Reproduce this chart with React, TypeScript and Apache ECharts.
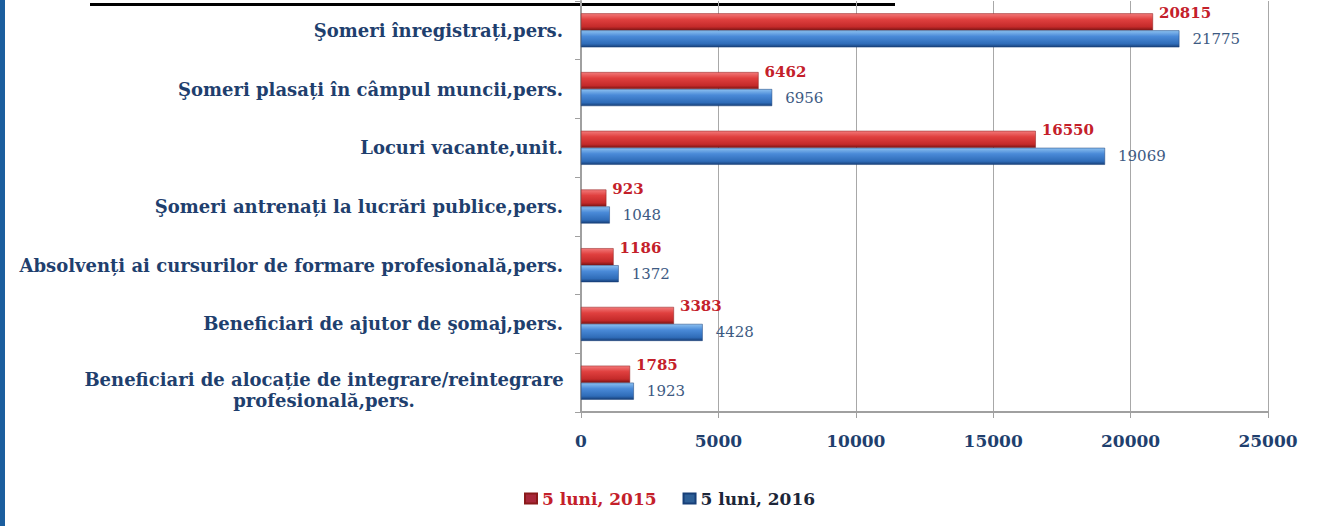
import React, { useEffect, useRef } from "react";
import * as echarts from "echarts";

const categories = [
  "Şomeri înregistrați,pers.",
  "Şomeri plasați în câmpul muncii,pers.",
  "Locuri vacante,unit.",
  "Şomeri antrenați la lucrări publice,pers.",
  "Absolvenți ai cursurilor de formare profesională,pers.",
  "Beneficiari de ajutor de şomaj,pers.",
  "Beneficiari de alocație de integrare/reintegrare\nprofesională,pers.",
];
const series2015 = [20815, 6462, 16550, 923, 1186, 3383, 1785];
const series2016 = [21775, 6956, 19069, 1048, 1372, 4428, 1923];
const seriesNames = ["5 luni, 2015", "5 luni, 2016"];
const xTicks = { min: 0, max: 25000, interval: 5000 };

const FONT = "DejaVu Serif";
const NAVY = "#1f3f6e";
const RED_TXT = "#c4202a";
const BLUE_TXT = "#3d5a82";

export default function App() {
  const ref = useRef<HTMLDivElement>(null);
  useEffect(() => {
    document.body.style.margin = "0";
    const chart = echarts.init(ref.current!, null, { renderer: "svg" });
    const redGrad = new echarts.graphic.LinearGradient(0, 0, 0, 1, [
      { offset: 0, color: "#f27a7a" },
      { offset: 0.35, color: "#e0403f" },
      { offset: 0.8, color: "#c42a2a" },
      { offset: 1, color: "#7e1515" },
    ]);
    const blueGrad = new echarts.graphic.LinearGradient(0, 0, 0, 1, [
      { offset: 0, color: "#8cc0f0" },
      { offset: 0.35, color: "#4a8ad8" },
      { offset: 0.8, color: "#2f6cb8" },
      { offset: 1, color: "#173f78" },
    ]);
    const catStyle = {
      color: NAVY,
      fontFamily: FONT,
      fontSize: 18,
      fontWeight: "bold",
      lineHeight: 24,
    };
    chart.setOption({
      animation: false,
      backgroundColor: "#ffffff",
      grid: { left: 581, right: 51, top: 1, bottom: 114, containLabel: false },
      legend: {
        top: 485,
        left: 519,
        itemWidth: 12,
        itemHeight: 10,
        itemGap: 26,
        icon: "rect",
        textStyle: { fontFamily: FONT, fontSize: 17, fontWeight: "bold" },
        data: [
          { name: seriesNames[0], textStyle: { color: RED_TXT, fontFamily: FONT, fontSize: 17, fontWeight: "bold" }, itemStyle: { color: "#a8283a" } },
          { name: seriesNames[1], textStyle: { color: "#1c2638", fontFamily: FONT, fontSize: 17, fontWeight: "bold" }, itemStyle: { color: "#2e5f96" } },
        ],
      },
      xAxis: {
        type: "value",
        min: xTicks.min,
        max: xTicks.max,
        interval: xTicks.interval,
        axisLine: { show: true, lineStyle: { color: "#a0a0a0", width: 2 } },
        axisTick: { show: true, length: 6, lineStyle: { color: "#a0a0a0" } },
        splitLine: { show: true, lineStyle: { color: "#a8a8a8", width: 1 } },
        axisLabel: {
          color: NAVY,
          fontFamily: FONT,
          fontSize: 17,
          fontWeight: "bold",
          margin: 20,
          formatter: (v: number) => String(v),
        },
      },
      yAxis: {
        type: "category",
        inverse: true,
        data: categories,
        axisLine: { show: true, lineStyle: { color: "#a0a0a0", width: 2 } },
        axisTick: { show: true, length: 6, lineStyle: { color: "#a0a0a0" } },
        axisLabel: {
          ...catStyle,
          margin: 18,
          formatter: (v: string) => {
            if (v.indexOf("\n") < 0) return `{n|${v}}`;
            const parts = v.split("\n");
            return `{c1|${parts[0]}}\n{c|${parts[1]}}`;
          },
          rich: {
            n: { ...catStyle },
            c1: { ...catStyle, width: 478, align: "center", lineHeight: 36, verticalAlign: "bottom" },
            c: { ...catStyle, width: 478, align: "center" },
          },
        },
      },
      series: [
        {
          name: seriesNames[0],
          type: "bar",
          data: series2015,
          barWidth: 17,
          barGap: "0%",
          itemStyle: { color: redGrad, borderColor: "#8a1a1a", borderWidth: 0.5 },
          label: {
            show: true,
            position: "right",
            distance: 6,
            offset: [0, -9],
            color: RED_TXT,
            fontFamily: FONT,
            fontSize: 15,
            fontWeight: "bold",
          },
        },
        {
          name: seriesNames[1],
          type: "bar",
          data: series2016,
          barWidth: 17,
          barGap: "0%",
          itemStyle: { color: blueGrad, borderColor: "#173f78", borderWidth: 0.5 },
          label: {
            show: true,
            position: "right",
            distance: 13,
            color: BLUE_TXT,
            fontFamily: FONT,
            fontSize: 15,
          },
        },
      ],
      graphic: [
        { type: "rect", left: 0, top: 0, shape: { width: 5, height: 526 }, style: { fill: "#1b5e9e" } },
        { type: "rect", left: 90, top: 3, shape: { width: 805, height: 3 }, style: { fill: "#000000" } },
      ],
    });
    return () => chart.dispose();
  }, []);
  return <div ref={ref} style={{ width: 1319, height: 526 }} />;
}
